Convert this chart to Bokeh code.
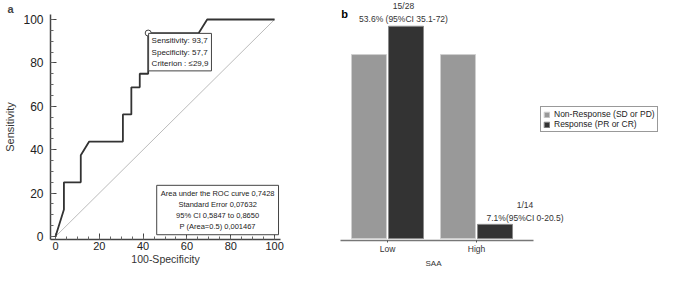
from bokeh.plotting import figure
from bokeh.models import (Label, Legend, LegendItem, ColumnDataSource, Title,
                          SingleIntervalTicker, FixedTicker)
from bokeh.layouts import row, column
from bokeh.embed import file_html
from bokeh.resources import INLINE
from bokeh.core.properties import value
import numpy as np

# ---------------- data: panel a (ROC curve) ----------------
roc_fpr = [0, 3.85, 3.85, 11.54, 11.54, 15.38, 30.77, 30.77, 34.62, 34.62,
           38.46, 38.46, 42.31, 42.31, 65.38, 69.23, 100]
roc_tpr = [0, 12.5, 25, 25, 37.5, 43.75, 43.75, 56.25, 56.25, 68.75,
           68.75, 75, 75, 93.75, 93.75, 100, 100]
ref_line = [0, 100]
cut_fpr = [42.31]
cut_tpr = [93.75]
cut_text = "Sensitivity: 93,7\nSpecificity: 57,7\nCriterion : \u226429,9"
auc_text = ("Area under the ROC curve 0,7428\nStandard Error 0,07632\n"
            "95% CI 0,5847 to 0,8650\nP (Area=0.5) 0,001467")

# ---------------- data: panel b (bars) ----------------
categories = ["Low", "High"]
non_response = [13, 13]
response = [15, 1]
response_labels = ["15/28\n53.6% (95%CI 35.1-72)", "1/14\n7.1%(95%CI 0-20.5)"]
series_names = ["Non-Response (SD or PD)", "Response (PR or CR)"]

FONT = value("Liberation Sans")

# ================= panel a =================
p1 = figure(width=340, height=267, x_range=(-2.28, 102.7), y_range=(-1.36, 102.3),
            min_border_left=50, min_border_right=60, min_border_top=13,
            min_border_bottom=26, output_backend="svg", toolbar_location=None)
p1.outline_line_color = None
p1.grid.visible = False
p1.title.text = "a"
p1.title.align = "left"
p1.title.offset = -43
p1.title.standoff = 0
p1.title.text_font = "Liberation Sans"
p1.title.text_font_size = "11px"
p1.title.text_font_style = "bold"

for ax in (p1.xaxis[0], p1.yaxis[0]):
    ax.ticker = SingleIntervalTicker(interval=20, num_minor_ticks=4)
    ax.axis_line_color = "#444444"
    ax.axis_line_width = 1.5
    ax.major_tick_line_color = "#444444"
    ax.minor_tick_line_color = "#666666"
    ax.major_tick_in = 6
    ax.major_tick_out = 0
    ax.minor_tick_in = 3
    ax.minor_tick_out = 0
    ax.major_label_text_font = "Liberation Sans"
    ax.major_label_text_color = "#222222"
    ax.axis_label_text_font = "Liberation Sans"
    ax.axis_label_text_font_style = "normal"
    ax.axis_label_text_color = "#333333"

p1.xaxis.major_label_text_font_size = "11px"
p1.yaxis.major_label_text_font_size = "12px"
p1.xaxis.axis_label_text_font_size = "10.5px"
p1.yaxis.axis_label_text_font_size = "11px"
p1.xaxis.axis_label = "100-Specificity"
p1.yaxis.axis_label = "Sensitivity"
p1.xaxis.major_label_standoff = 2
p1.xaxis.axis_label_standoff = 0
p1.yaxis.major_label_standoff = 7
p1.yaxis.axis_label_standoff = 4

p1.line(ref_line, ref_line, line_color="#aaaaaa", line_width=0.8)
p1.line(roc_fpr, roc_tpr, line_color="#333333", line_width=1.8)
p1.scatter(cut_fpr, cut_tpr, marker="circle", size=6, fill_color="white",
           line_color="#444444", line_width=1)

p1.add_layout(Label(x=42.5, y=93.6, text=cut_text, text_align="left",
                    text_baseline="top", text_font="Liberation Sans",
                    text_font_size="8px", text_line_height=1.25, text_color="#222222",
                    padding=3, border_line_color="#444444", border_line_width=1,
                    background_fill_color="white"))
p1.add_layout(Label(x=74, y=23.6, text=auc_text, text_align="center",
                    text_baseline="top", text_font="Liberation Sans",
                    text_font_size="7.5px", text_line_height=1.2, text_color="#222222",
                    padding=4, border_line_color="#444444", border_line_width=1,
                    background_fill_color="white"))

# ================= panel b =================
xpos = np.arange(len(categories))
p2 = figure(width=320, height=267, x_range=(-0.528, 3.067), y_range=(-0.14, 16.82),
            title=None, min_border_left=0, min_border_right=0, min_border_top=0,
            min_border_bottom=22, output_backend="svg", toolbar_location=None)
p2.outline_line_color = None
p2.grid.visible = False
p2.yaxis.visible = False

src = ColumnDataSource(dict(
    x=xpos, non=non_response, resp=response,
    x_non=xpos - 0.208, x_resp=xpos + 0.208,
    lbl=response_labels, xo=[-2.5, 30], yo=[-2.5, -1],
))
r_non = p2.vbar(x="x_non", top="non", bottom=0, width=0.393, source=src,
                fill_color="#999999", line_color="#cfcfcf", line_width=1)
r_resp = p2.vbar(x="x_resp", top="resp", bottom=0, width=0.393, source=src,
                 fill_color="#333333", line_color="#8a8a8a", line_width=1)
p2.text(x="x_resp", y="resp", text="lbl", x_offset="xo", y_offset="yo", source=src,
        text_align="center", text_baseline="bottom", text_font=FONT,
        text_font_size="8.5px", text_line_height=1.3, text_color="#333333")

xa = p2.xaxis[0]
xa.bounds = (-0.528, 1.64)
xa.ticker = FixedTicker(ticks=list(xpos))
xa.major_label_overrides = {int(i): c for i, c in zip(xpos, categories)}
xa.minor_tick_line_color = None
xa.axis_line_color = "#777777"
xa.axis_line_width = 1.5
xa.major_tick_line_color = "#555555"
xa.major_tick_in = 0
xa.major_tick_out = 2
xa.major_label_standoff = 1
xa.axis_label_standoff = 0
xa.major_label_text_font = "Liberation Sans"
xa.major_label_text_font_size = "8.5px"
xa.major_label_text_color = "#333333"

p2.add_layout(Title(text="SAA", align="left", offset=85, standoff=0,
                    text_font="Liberation Sans", text_font_size="8px",
                    text_font_style="normal", text_color="#333333"), "below")

legend = Legend(items=[LegendItem(label=series_names[0], renderers=[r_non]),
                       LegendItem(label=series_names[1], renderers=[r_resp])],
                location=(200, 108), margin=0, padding=2, spacing=0,
                glyph_width=7, glyph_height=7, label_height=7, label_standoff=4,
                label_text_font="Liberation Sans", label_text_font_size="8.5px",
                label_text_color="#222222", border_line_color="#333333",
                border_line_width=1, background_fill_color="white")
p2.add_layout(legend)

p2.add_layout(Label(x=-0.52, y=16.3, text="b", text_align="left", text_baseline="top",
                    text_font="Liberation Sans", text_font_style="bold",
                    text_font_size="11px", text_color="black"))

layout = row(column(p1), column(p2))
open("out.html", "w").write(file_html(layout, INLINE))
